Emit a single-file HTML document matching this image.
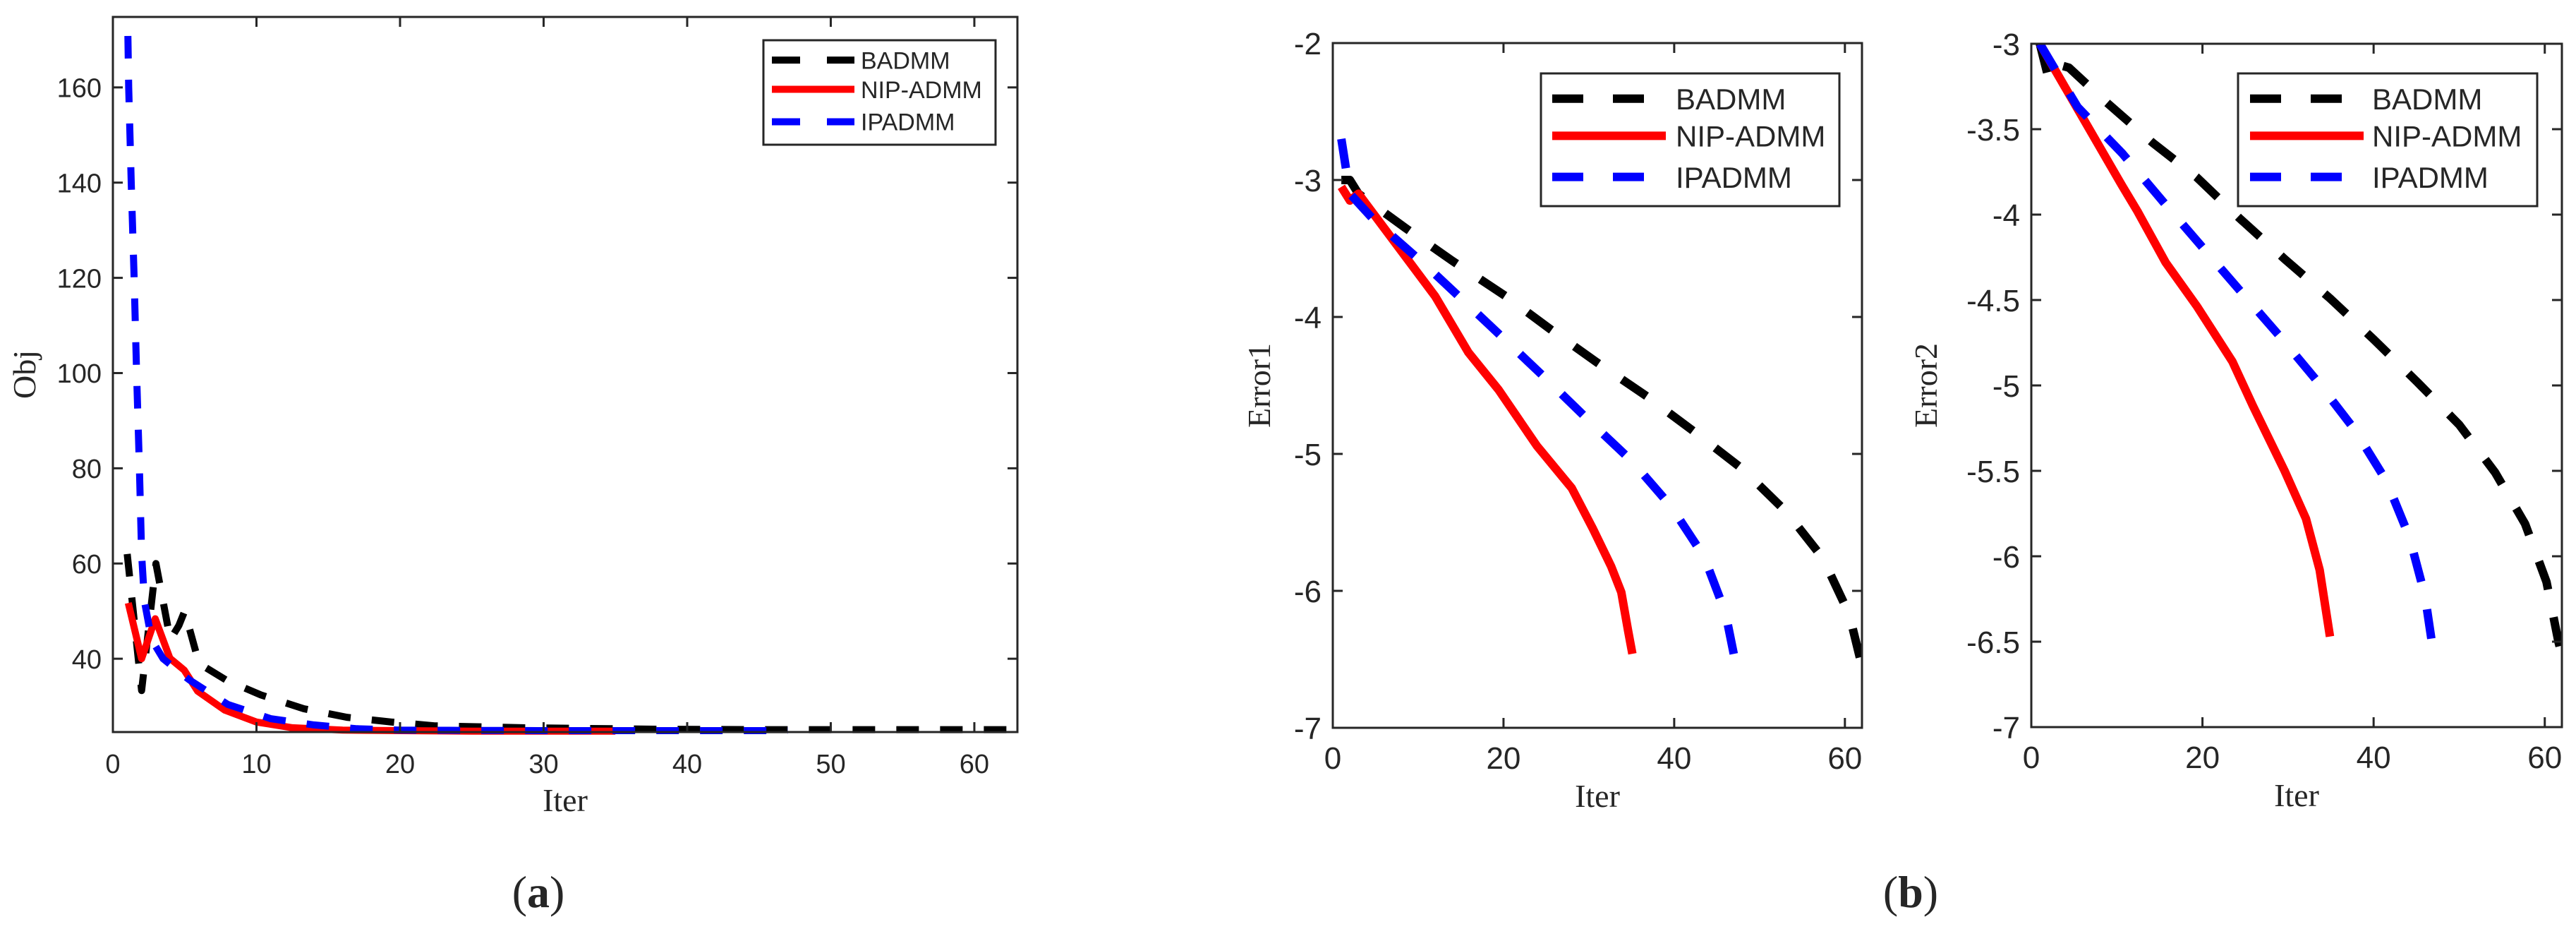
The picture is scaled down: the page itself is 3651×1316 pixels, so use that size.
<!DOCTYPE html>
<html><head><meta charset="utf-8">
<style>
html,body{margin:0;padding:0;background:#fff;}
svg{display:block;}
.tick{font-family:"Liberation Sans",sans-serif;fill:#262626;}
.lab{font-family:"Liberation Serif",serif;fill:#262626;}
</style></head>
<body>
<svg id="fig" width="3651" height="1316" viewBox="0 0 3651 1316" xmlns="http://www.w3.org/2000/svg"></svg>
<script>
// ---------- Panel (a) data ----------
const aBadX = [1,2,3,4,4.6,5,6,7.9,10.3,13.3,16.3,19.4,22.4,28.5,37.9,45,55,63];
const aBadY = [62,33.3,60,44,47,50,39,35.5,32.4,29.5,27.7,26.7,25.9,25.5,25.2,25.1,25.1,25.1];
const aNipX = [1.07,2,2.95,3.97,4.97,5.9,7.8,10,12.5,16,20,25,30,35];
const aNipY = [51.7,40,48.4,40.1,37.6,33.2,29.2,26.7,25.5,25,24.9,24.8,24.8,24.8];
const aIpX = [1,1.1,1.28,1.48,1.65,1.85,2,2.2,2.7,3.5,5.3,8,11,14,17,20,30,40,47];
const aIpY = [180,160,140,120,100,80,62,52,44,40,35.6,30.4,27.4,26.1,25.3,25,24.9,24.9,24.9];
const aXTicks = [0,10,20,30,40,50,60];
const aYTicks = [40,60,80,100,120,140,160];

// ---------- Panel (b) Error1 data ----------
const e1BadX = [1,2,3,8.5,14,20.3,25.5,30.9,36.8,42.4,48,53.1,57.4,60.5,62];
const e1BadY = [-3.0,-3.0,-3.1,-3.35,-3.59,-3.85,-4.09,-4.33,-4.58,-4.84,-5.11,-5.42,-5.76,-6.17,-6.55];
const e1NipX = [1,2,3,9,12,15.9,19.4,23.9,28,30.5,32.6,33.8,34.6,35.1];
const e1NipY = [-3.05,-3.15,-3.1,-3.6,-3.85,-4.26,-4.53,-4.94,-5.25,-5.55,-5.82,-6.01,-6.29,-6.46];
const e1IpX = [1,2,4.8,11,18.2,24.8,29.9,35,39.6,43.5,46,47.1];
const e1IpY = [-2.7,-3.1,-3.29,-3.63,-4.05,-4.44,-4.75,-5.05,-5.38,-5.75,-6.16,-6.5];
const e1YTicks = [-2,-3,-4,-5,-6,-7];

// ---------- Panel (b) Error2 data ----------
const e2BadX = [1,2,3,4.4,8.5,14.2,19.3,24.3,29.6,34.9,40,45.1,50,54.2,57.7,60.2,61.6,62];
const e2BadY = [-3.0,-3.2,-3.12,-3.14,-3.33,-3.58,-3.78,-4.02,-4.26,-4.49,-4.73,-4.98,-5.23,-5.51,-5.81,-6.15,-6.5,-6.58];
const e2NipX = [1,5.4,10.6,12.4,15.7,19.4,23.5,25.9,29.6,32.1,33.7,34.9];
const e2NipY = [-3.0,-3.38,-3.83,-3.98,-4.28,-4.54,-4.86,-5.12,-5.5,-5.78,-6.08,-6.47];
const e2IpX = [1,5.4,10.6,15.5,19.8,24.3,29,33.5,37.8,41.5,44.2,46,46.8];
const e2IpY = [-3.0,-3.37,-3.64,-3.93,-4.18,-4.44,-4.71,-4.98,-5.26,-5.56,-5.89,-6.23,-6.5];
const e2YTicks = [-3,-3.5,-4,-4.5,-5,-5.5,-6,-6.5,-7];
const bXTicks = [0,20,40,60];

const NS = "http://www.w3.org/2000/svg";
const svg = document.getElementById('fig');
function mk(tag, attrs, parent){
  const e = document.createElementNS(NS, tag);
  for (const k in attrs) e.setAttribute(k, attrs[k]);
  (parent||svg).appendChild(e);
  return e;
}

function panel(cfg){
  const g = mk('g', {});
  
  
  const sx = v => cfg.x0 + (v - cfg.xmin) / (cfg.xmax - cfg.xmin) * (cfg.x1 - cfg.x0);
  const sy = v => cfg.y1 - (v - cfg.ymin) / (cfg.ymax - cfg.ymin) * (cfg.y1 - cfg.y0);
  const cid = cfg.name + '-clip';
  const cp = mk('clipPath', {id: cid}, g);
  mk('rect', {x: cfg.x0, y: cfg.y0, width: cfg.x1 - cfg.x0, height: cfg.y1 - cfg.y0 + 6}, cp);
  const sg = mk('g', {'clip-path': 'url(#' + cid + ')'}, g);
  cfg.series.forEach(s => {
    const pts = s.xs.map((x, i) => sx(x).toFixed(1) + ',' + sy(s.ys[i]).toFixed(1)).join(' ');
    const pl = mk('polyline', {points: pts, fill: 'none', stroke: s.color, 'stroke-width': cfg.lw,
      'stroke-linejoin': 'round', 'stroke-dasharray': s.dash ? cfg.dash : 'none'}, sg);
    
    
  });
  const box = mk('rect', {x: cfg.x0, y: cfg.y0, width: cfg.x1 - cfg.x0, height: cfg.y1 - cfg.y0, fill: 'none', stroke: '#262626', 'stroke-width': 3}, g);
  
  
  const tl = 14;
  cfg.xticks.forEach(t => {
    const x = sx(t);
    mk('line', {x1: x, y1: cfg.y1, x2: x, y2: cfg.y1 - tl, stroke: '#262626', 'stroke-width': 3}, g);
    mk('line', {x1: x, y1: cfg.y0, x2: x, y2: cfg.y0 + tl, stroke: '#262626', 'stroke-width': 3}, g);
    const tx = mk('text', {x: x, y: cfg.y1 + 58, 'text-anchor': 'middle', 'font-size': cfg.fs, class: 'tick'}, g);
    tx.textContent = t;
    
    
  });
  cfg.yticks.forEach(t => {
    const y = sy(t);
    mk('line', {x1: cfg.x0, y1: y, x2: cfg.x0 + tl, y2: y, stroke: '#262626', 'stroke-width': 3}, g);
    mk('line', {x1: cfg.x1, y1: y, x2: cfg.x1 - tl, y2: y, stroke: '#262626', 'stroke-width': 3}, g);
    const tx = mk('text', {x: cfg.x0 - 16, y: y + cfg.fs * 0.36, 'text-anchor': 'end', 'font-size': cfg.fs, class: 'tick'}, g);
    tx.textContent = t;
    
    
  });
  const xl = mk('text', {x: (cfg.x0 + cfg.x1) / 2, y: cfg.y1 + 112, 'text-anchor': 'middle', 'font-size': 46, class: 'lab'}, g);
  xl.textContent = 'Iter';
  
  
  const yl = mk('text', {x: 0, y: 0, 'text-anchor': 'middle', 'font-size': 46, class: 'lab',
    transform: 'translate(' + cfg.ylx + ',' + ((cfg.y0 + cfg.y1) / 2) + ') rotate(-90)'}, g);
  yl.textContent = cfg.ylabel;
  
  
  const L = cfg.leg;
  const lg = mk('g', {}, g);
  
  
  mk('rect', {x: L.x, y: L.y, width: L.w, height: L.h, fill: '#fff', stroke: '#262626', 'stroke-width': 3}, lg);
  cfg.series.forEach((s, i) => {
    const yy = L.y + L.h * [0.19, 0.47, 0.78][i];
    const ln = mk('line', {x1: L.lx1, y1: yy, x2: L.lx2, y2: yy, stroke: s.color, 'stroke-width': cfg.lw,
      'stroke-dasharray': s.dash ? L.dash : 'none'}, lg);
    
    
    const tx = mk('text', {x: L.tx, y: yy + L.fs * 0.36, 'font-size': L.fs, class: 'tick', fill: '#000'}, lg);
    tx.textContent = s.label;
    
    
  });
}

panel({name: 'chart-a-obj', x0: 160, x1: 1442, y0: 24, y1: 1037, xmin: 0, xmax: 63, ymin: 24.6, ymax: 174.8,
  xticks: aXTicks, yticks: aYTicks, fs: 38, lw: 10, dash: '32,30', ylabel: 'Obj', ylx: 50,
  series: [
    {key: 'badmm', label: 'BADMM', xs: aBadX, ys: aBadY, color: '#000', dash: true},
    {key: 'nip-admm', label: 'NIP-ADMM', xs: aNipX, ys: aNipY, color: '#ff0000', dash: false},
    {key: 'ipadmm', label: 'IPADMM', xs: aIpX, ys: aIpY, color: '#0000ff', dash: true}],
  leg: {x: 1082, y: 57, w: 329, h: 148, lx1: 1094, lx2: 1211, tx: 1220, fs: 34, dash: '40,38'}});

panel({name: 'chart-b-error1', x0: 1889, x1: 2639, y0: 61, y1: 1031, xmin: 0, xmax: 62, ymin: -7, ymax: -2,
  xticks: bXTicks, yticks: e1YTicks, fs: 44, lw: 12, dash: '42,40', ylabel: 'Error1', ylx: 1800,
  series: [
    {key: 'badmm', label: 'BADMM', xs: e1BadX, ys: e1BadY, color: '#000', dash: true},
    {key: 'nip-admm', label: 'NIP-ADMM', xs: e1NipX, ys: e1NipY, color: '#ff0000', dash: false},
    {key: 'ipadmm', label: 'IPADMM', xs: e1IpX, ys: e1IpY, color: '#0000ff', dash: true}],
  leg: {x: 2184, y: 104, w: 423, h: 188, lx1: 2200, lx2: 2361, tx: 2375, fs: 42, dash: '44,42'}});

panel({name: 'chart-b-error2', x0: 2879, x1: 3631, y0: 62, y1: 1030, xmin: 0, xmax: 62, ymin: -7, ymax: -3,
  xticks: bXTicks, yticks: e2YTicks, fs: 44, lw: 12, dash: '42,40', ylabel: 'Error2', ylx: 2745,
  series: [
    {key: 'badmm', label: 'BADMM', xs: e2BadX, ys: e2BadY, color: '#000', dash: true},
    {key: 'nip-admm', label: 'NIP-ADMM', xs: e2NipX, ys: e2NipY, color: '#ff0000', dash: false},
    {key: 'ipadmm', label: 'IPADMM', xs: e2IpX, ys: e2IpY, color: '#0000ff', dash: true}],
  leg: {x: 3172, y: 104, w: 424, h: 188, lx1: 3189, lx2: 3350, tx: 3362, fs: 42, dash: '44,42'}});

const ca = mk('text', {x: 763, y: 1285, 'text-anchor': 'middle', 'font-size': 64, class: 'lab', fill: '#000'});
ca.innerHTML = '(<tspan font-weight="bold">a</tspan>)';


const cb = mk('text', {x: 2708, y: 1285, 'text-anchor': 'middle', 'font-size': 64, class: 'lab', fill: '#000'});
cb.innerHTML = '(<tspan font-weight="bold">b</tspan>)';


</script>
</body></html>
